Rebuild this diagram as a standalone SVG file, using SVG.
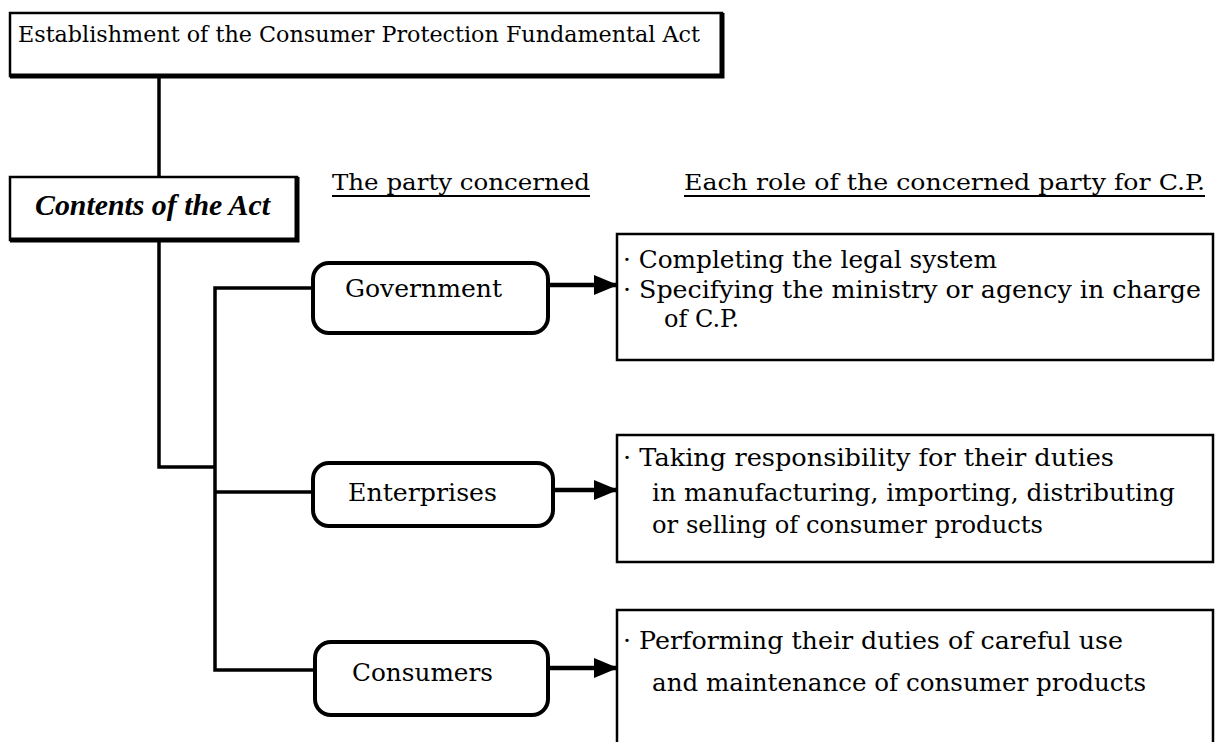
<svg xmlns="http://www.w3.org/2000/svg" width="1219" height="742" viewBox="0 0 1219 742">
  <defs>
    <marker id="arrowhead" viewBox="0 0 24 20" refX="23" refY="10" markerWidth="24" markerHeight="20" markerUnits="userSpaceOnUse" orient="auto">
      <path d="M0,0 L24,10 L0,20 Z" fill="#000"/>
    </marker>
    <style>
      .txt { font-family: "DejaVu Serif", "Liberation Serif", serif; fill: #000; }
      .ital { font-family: "Liberation Serif", "DejaVu Serif", serif; font-style: italic; font-weight: bold; fill: #000; }
      .box { fill: #fff; stroke: #000; stroke-width: 2.5; }
      .shadow { fill: none; stroke: #000; stroke-width: 5; }
      .party { fill: #fff; stroke: #000; stroke-width: 4; }
      .line { fill: none; stroke: #000; stroke-width: 3.5; }
      .arrow { fill: none; stroke: #000; stroke-width: 4.5; marker-end: url(#arrowhead); }
      .uline { stroke: #000; stroke-width: 2; }
    </style>
  </defs>

  <!-- connectors -->
  <g id="connectors">
    <path class="line" d="M159,76 V177"/>
    <path class="line" d="M159,240 V467 H215"/>
    <path class="line" d="M313,288 H215 V670 H315"/>
    <path class="line" d="M215,492 H313"/>
    <path class="arrow" d="M548,285 H617"/>
    <path class="arrow" d="M553,490 H617"/>
    <path class="arrow" d="M548,668 H617"/>
  </g>

  <!-- title -->
  <g id="act-title">
    <rect class="box" x="10" y="13" width="712" height="63"/>
    <path class="shadow" d="M10,76 H722 V13"/>
    <text class="txt" x="18" y="42" font-size="22" textLength="682" lengthAdjust="spacingAndGlyphs">Establishment of the Consumer Protection Fundamental Act</text>
  </g>

  <!-- contents of the act -->
  <g id="act-contents">
    <rect class="box" x="10" y="177" width="287" height="63"/>
    <path class="shadow" d="M10,240 H297 V177"/>
    <text class="ital" x="35" y="215" font-size="29" textLength="235" lengthAdjust="spacingAndGlyphs">Contents of the Act</text>
  </g>

  <!-- column headings -->
  <g id="heading-party">
    <text class="txt" x="332" y="190" font-size="23" textLength="258" lengthAdjust="spacingAndGlyphs">The party concerned</text>
    <line class="uline" x1="332" y1="196" x2="590" y2="196"/>
  </g>
  <g id="heading-role">
    <text class="txt" x="684" y="190" font-size="23" textLength="521" lengthAdjust="spacingAndGlyphs">Each role of the concerned party for C.P.</text>
    <line class="uline" x1="684" y1="196" x2="1205" y2="196"/>
  </g>

  <!-- parties -->
  <g id="party-government">
    <rect class="party" x="313" y="263" width="235" height="70" rx="16" ry="16"/>
    <text class="txt" x="345" y="297" font-size="25" textLength="157" lengthAdjust="spacingAndGlyphs">Government</text>
  </g>
  <g id="party-enterprises">
    <rect class="party" x="313" y="463" width="240" height="63" rx="16" ry="16"/>
    <text class="txt" x="348" y="501" font-size="25" textLength="149" lengthAdjust="spacingAndGlyphs">Enterprises</text>
  </g>
  <g id="party-consumers">
    <rect class="party" x="315" y="642" width="233" height="73" rx="16" ry="16"/>
    <text class="txt" x="352" y="681" font-size="25" textLength="141" lengthAdjust="spacingAndGlyphs">Consumers</text>
  </g>

  <!-- roles -->
  <g id="role-government">
    <rect class="box" x="617" y="234" width="596" height="126"/>
    <text class="txt" x="623" y="268" font-size="24" textLength="374" lengthAdjust="spacingAndGlyphs">· Completing the legal system</text>
    <text class="txt" x="623" y="298" font-size="24" textLength="578" lengthAdjust="spacingAndGlyphs">· Specifying the ministry or agency in charge</text>
    <text class="txt" x="664" y="327" font-size="24">of C.P.</text>
  </g>
  <g id="role-enterprises">
    <rect class="box" x="617" y="435" width="596" height="127"/>
    <text class="txt" x="623" y="466" font-size="24" textLength="491" lengthAdjust="spacingAndGlyphs">· Taking responsibility for their duties</text>
    <text class="txt" x="652" y="501" font-size="24" textLength="523" lengthAdjust="spacingAndGlyphs">in manufacturing, importing, distributing</text>
    <text class="txt" x="652" y="533" font-size="24" textLength="391" lengthAdjust="spacingAndGlyphs">or selling of consumer products</text>
  </g>
  <g id="role-consumers">
    <path class="box" d="M617,745 V610 H1213 V745"/>
    <text class="txt" x="623" y="649" font-size="24" textLength="500" lengthAdjust="spacingAndGlyphs">· Performing their duties of careful use</text>
    <text class="txt" x="652" y="691" font-size="24" textLength="494" lengthAdjust="spacingAndGlyphs">and maintenance of consumer products</text>
  </g>
</svg>
